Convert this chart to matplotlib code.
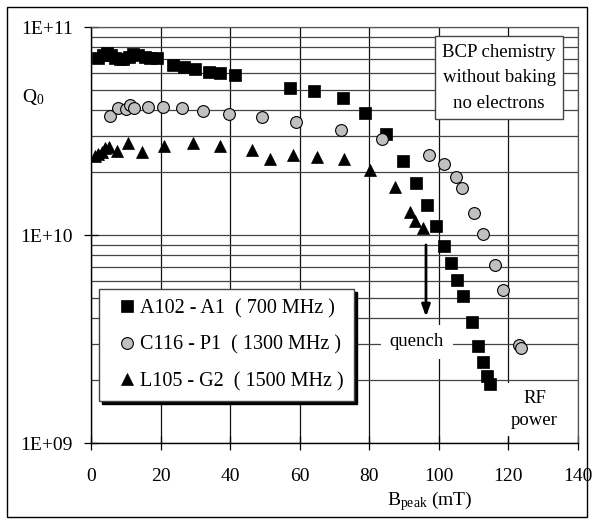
import matplotlib
matplotlib.use('Agg')
import matplotlib.pyplot as plt
from matplotlib.ticker import FixedLocator, FuncFormatter, NullFormatter
from matplotlib.patches import Rectangle

plt.rcParams['font.family'] = ['Liberation Serif', 'DejaVu Serif']
plt.rcParams['mathtext.fontset'] = 'custom'
plt.rcParams['mathtext.rm'] = 'Liberation Serif'
plt.rcParams['mathtext.it'] = 'Liberation Serif:italic'

# ---------------- data ----------------
sq_label = "A102 - A1  ( 700 MHz )"
sq_x = [2.1, 3.5, 4.5, 5.8, 6.9, 8.3, 9.3, 11.0, 12.2, 13.5, 15.5, 17.0, 18.9,
        23.7, 26.6, 29.9, 33.8, 37.1, 41.4, 57.1, 64.0, 72.4, 78.8, 84.9, 89.7,
        93.5, 96.6, 99.2, 101.4, 103.4, 105.2, 106.8, 109.4, 111.3, 112.8, 113.9, 114.6]
sq_q = [7.1e10, 7.3e10, 7.5e10, 7.3e10, 7.1e10, 7.0e10, 7.0e10, 7.2e10, 7.4e10,
        7.3e10, 7.2e10, 7.1e10, 7.1e10, 6.6e10, 6.4e10, 6.3e10, 6.1e10, 6.0e10,
        5.9e10, 5.07e10, 4.92e10, 4.54e10, 3.85e10, 3.05e10, 2.28e10, 1.77e10,
        1.39e10, 1.10e10, 8.85e9, 7.31e9, 6.08e9, 5.09e9, 3.83e9, 2.94e9, 2.46e9,
        2.09e9, 1.92e9]

ci_label = "C116 - P1  ( 1300 MHz )"
ci_x = [5.5, 7.9, 10.2, 11.3, 12.5, 16.3, 20.8, 26.1, 32.1, 39.7, 49.1, 58.8,
        72.0, 83.7, 97.3, 101.4, 104.9, 106.7, 110.0, 112.7, 116.1, 118.5, 122.9, 123.7]
ci_q = [3.72e10, 4.07e10, 4.02e10, 4.23e10, 4.07e10, 4.11e10, 4.12e10, 4.07e10,
        3.96e10, 3.83e10, 3.68e10, 3.48e10, 3.19e10, 2.88e10, 2.43e10, 2.19e10,
        1.89e10, 1.68e10, 1.28e10, 1.01e10, 7.15e9, 5.45e9, 2.96e9, 2.87e9]

tr_label = "L105 - G2  ( 1500 MHz )"
tr_x = [1.2, 2.1, 3.1, 4.0, 5.2, 7.4, 10.6, 14.6, 21.0, 29.3, 37.1, 46.2, 51.5,
        58.2, 65.0, 72.6, 80.1, 87.4, 91.8, 93.2, 95.5]
tr_q = [2.41e10, 2.45e10, 2.51e10, 2.61e10, 2.64e10, 2.54e10, 2.76e10, 2.51e10,
        2.68e10, 2.76e10, 2.69e10, 2.56e10, 2.31e10, 2.43e10, 2.38e10, 2.33e10,
        2.05e10, 1.70e10, 1.29e10, 1.17e10, 1.08e10]

x_ticks = [0, 20, 40, 60, 80, 100, 120, 140]
y_ticks = [1e9, 1e10, 1e11]
y_tick_labels = ["1E+09", "1E+10", "1E+11"]
y_minor = [m * 10.0 ** e for e in (9, 10) for m in range(2, 10)]

# ---------------- figure ----------------
W, H, DPI = 594, 524, 100
fig = plt.figure(figsize=(W / DPI, H / DPI), dpi=DPI)
fig.patch.set_facecolor('white')

L, R, T, B = 91, 578, 27, 443
ax = fig.add_axes([L / W, 1 - B / H, (R - L) / W, (B - T) / H])
ax.set_yscale('log')
ax.set_xlim(0, 140)
ax.set_ylim(1e9, 1e11)

ax.xaxis.set_major_locator(FixedLocator(x_ticks))
ax.yaxis.set_major_locator(FixedLocator(y_ticks))
ax.yaxis.set_minor_locator(FixedLocator(y_minor))
ax.yaxis.set_major_formatter(FuncFormatter(lambda v, p: y_tick_labels[y_ticks.index(v)] if v in y_ticks else ""))
ax.yaxis.set_minor_formatter(NullFormatter())

ax.set_axisbelow(True)
ax.grid(which='major', axis='x', color='#111111', lw=0.9)
ax.grid(which='both', axis='y', color='#444444', lw=0.9)

ax.tick_params(axis='both', which='major', direction='inout', length=10, width=0.9,
               labelsize=14, colors='black')
ax.tick_params(axis='y', which='major', pad=8)
ax.tick_params(axis='x', which='major', pad=13)
ax.tick_params(axis='y', which='minor', length=0)

for s in ('left', 'bottom'):
    ax.spines[s].set_color('black')
    ax.spines[s].set_linewidth(1.0)
for s in ('top', 'right'):
    ax.spines[s].set_color('#555555')
    ax.spines[s].set_linewidth(0.9)

ax.plot(sq_x, sq_q, ls='none', marker='s', ms=8, mfc='black', mec='black', mew=0.5,
        label=sq_label, zorder=3)
ax.plot(ci_x, ci_q, ls='none', marker='o', ms=8.5, mfc='#c0c0c0', mec='black', mew=0.8,
        label=ci_label, zorder=3)
ax.plot(tr_x, tr_q, ls='none', marker='^', ms=9, mfc='black', mec='black', mew=0.5,
        label=tr_label, zorder=3)

leg = ax.legend(loc='upper left', bbox_to_anchor=((99 - L) / (R - L), (B - 289) / (B - T)),
                borderaxespad=0, fontsize=14.5, frameon=True, fancybox=False,
                shadow={'color': 'black', 'alpha': 1}, edgecolor='#444444',
                framealpha=1, handlelength=1.8, handletextpad=-0.25, borderpad=0.5,
                labelspacing=0.85)
leg.get_frame().set_linewidth(1.0)
leg.set_zorder(6)

ax.text(117.3, 5.69e10, "BCP chemistry\nwithout baking\nno electrons", ha='center',
        va='center', fontsize=13.5, linespacing=1.65, zorder=6,
        bbox=dict(boxstyle='square,pad=0.4', fc='white', ec='#444444', lw=1))
ax.text(93.7, 3.07e9, "quench", ha='center', va='center', fontsize=13.5, zorder=4,
        bbox=dict(boxstyle='square,pad=0.45', fc='white', ec='none'))
ax.text(127.5, 1.45e9, "RF\npower", ha='center', va='center', fontsize=13.5,
        linespacing=1.4, zorder=4,
        bbox=dict(boxstyle='square,pad=0.35', fc='white', ec='none'))
ax.annotate('', xy=(96.3, 4.04e9), xytext=(96.3, 8.96e9),
            arrowprops=dict(arrowstyle='-|>,head_length=0.7,head_width=0.25',
                            color='black', lw=2, shrinkA=0, shrinkB=0), zorder=5)

fig.text(22 / W, 1 - 97 / H, r'Q$_\mathrm{0}$', ha='left', va='center', fontsize=14)
fig.text(430 / W, 1 - 501 / H, r'B$_\mathrm{peak}$ (mT)', ha='center', va='center',
         fontsize=14)

fig.patches.append(Rectangle((7 / W, 7 / H), (587 - 7) / W, (517 - 7) / H, fill=False,
                             ec='black', lw=1, transform=fig.transFigure, figure=fig))

fig.savefig('out.png', dpi=DPI)
